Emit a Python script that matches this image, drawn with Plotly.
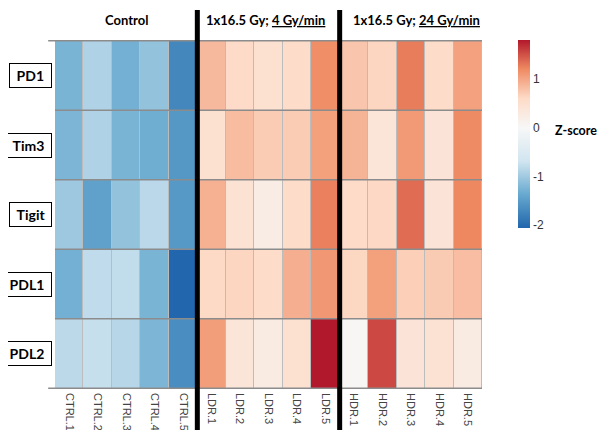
import plotly.graph_objects as go

genes = ["PD1", "Tim3", "Tigit", "PDL1", "PDL2"]
samples = ["CTRL.1", "CTRL.2", "CTRL.3", "CTRL.4", "CTRL.5",
           "LDR.1", "LDR.2", "LDR.3", "LDR.4", "LDR.5",
           "HDR.1", "HDR.2", "HDR.3", "HDR.4", "HDR.5"]
group_labels = ["Control", "1x16.5 Gy; <u>4 Gy/min</u>", "1x16.5 Gy; <u>24 Gy/min</u>"]
group_sizes = [5, 5, 5]

z_pd1 = [-1.25, -0.90, -1.29, -1.09, -1.72, 0.85, 0.59, 0.49, 0.58, 1.17, 0.76, 0.64, 1.27, 0.58, 1.03]
z_tim3 = [-1.23, -0.90, -1.25, -1.32, -1.55, 0.49, 0.83, 0.71, 0.71, 1.04, 0.89, 0.39, 1.08, 0.40, 1.19]
z_tigit = [-1.02, -1.45, -1.09, -0.84, -1.54, 0.91, 0.45, 0.24, 0.58, 1.25, 0.59, 0.62, 1.36, 0.40, 1.21]
z_pdl1 = [-1.29, -0.80, -0.79, -1.25, -2.05, 0.61, 0.64, 0.58, 0.93, 1.10, 0.63, 1.04, 0.69, 0.72, 0.82]
z_pdl2 = [-0.83, -0.76, -0.86, -1.23, -1.66, 1.05, 0.39, 0.26, 0.49, 1.80, 0.03, 1.54, 0.40, 0.45, 0.26]
z = [z_pd1, z_tim3, z_tigit, z_pdl1, z_pdl2]

colorbar_ticks = [-2, -1, 0, 1]
colorbar_ticktext = ["-2", "-1", "0", "1"]
zmin, zmax = -2.06, 1.8
anchors = [(-2.06, "#2166ac"), (-1.37, "#67a9cf"), (-0.69, "#d1e5f0"), (0.0, "#f7f7f7"),
           (0.6, "#fddbc7"), (1.2, "#ef8a62"), (1.8, "#b2182b")]
colorscale = [[(v - zmin) / (zmax - zmin), c] for v, c in anchors]

fig = go.Figure(go.Heatmap(
    z=z, x=samples, y=genes, zmin=zmin, zmax=zmax, colorscale=colorscale,
    xgap=1, ygap=0,
    colorbar=dict(x=1.084, xanchor="left", y=1.0, yanchor="top",
                  len=188, lenmode="pixels", thickness=12, thicknessmode="pixels",
                  outlinewidth=0, tickvals=colorbar_ticks, ticktext=colorbar_ticktext,
                  ticks="", xpad=0, ypad=0,
                  tickfont=dict(family="Liberation Sans", size=12, color="#333"))
))

n_rows = len(genes)
n_cols = len(samples)

# row separator lines (outer edges reach a little past the left side)
for r in range(n_rows + 1):
    edge = r in (0, n_rows)
    fig.add_shape(type="line", xref="paper", yref="y",
                  x0=-0.016 if edge else 0, x1=1, y0=r - 0.5, y1=r - 0.5,
                  line=dict(color="#8c8c8c", width=1.5), layer="above")

# group separators and headers
bounds = []
acc = 0
for s in group_sizes:
    bounds.append((acc - 0.5, acc + s - 0.5))
    acc += s

for i, (b0, b1) in enumerate(bounds):
    if i > 0:
        fig.add_shape(type="line", xref="x", yref="paper", x0=b0, x1=b0, y0=-0.14, y1=1.086,
                      line=dict(color="black", width=5), layer="above")
    if i == 0:
        fig.add_annotation(x=(b0 + b1) / 2, xref="x", y=1.057, yref="paper", yanchor="middle",
                           text="<b>%s</b>" % group_labels[i], showarrow=False,
                           font=dict(family="Lato", size=13, color="black"))
    else:
        fig.add_annotation(x=b0, xref="x", xanchor="left", xshift=7 if i == 1 else 11,
                           y=1.057, yref="paper", yanchor="middle",
                           text="<b>%s</b>" % group_labels[i], showarrow=False,
                           font=dict(family="Lato", size=13, color="black"))

for g in genes:
    fig.add_annotation(x=-0.007, xref="paper", xanchor="right", y=g, yref="y",
                       text="&nbsp;<b>%s</b>&nbsp;" % g, showarrow=False,
                       bordercolor="black", borderwidth=1, borderpad=3, bgcolor="white",
                       font=dict(family="Lato", size=14, color="black"))

fig.add_annotation(x=1.167, xref="paper", xanchor="left", y=0.742, yref="paper", yanchor="middle",
                   text="<b>Z-score</b>", showarrow=False,
                   font=dict(family="Lato", size=12.5, color="black"))

# the page body adds an 8px offset, so the figure is 8px smaller on each axis
fig.update_layout(
    width=604, height=422,
    margin=dict(l=47, r=130, t=32, b=41),
    paper_bgcolor="white", plot_bgcolor="#bcbcbc",
    showlegend=False,
)
fig.update_xaxes(tickangle=90, ticks="", showgrid=False, zeroline=False, showline=False,
                 range=[-0.5, n_cols - 0.5],
                 ticklabelstandoff=3, automargin=False,
                 tickfont=dict(family="Liberation Sans", size=11, color="#444"))
fig.update_yaxes(autorange="reversed", showticklabels=False, ticks="", showgrid=False,
                 zeroline=False, showline=False, automargin=False)

fig.write_html("out.html")
